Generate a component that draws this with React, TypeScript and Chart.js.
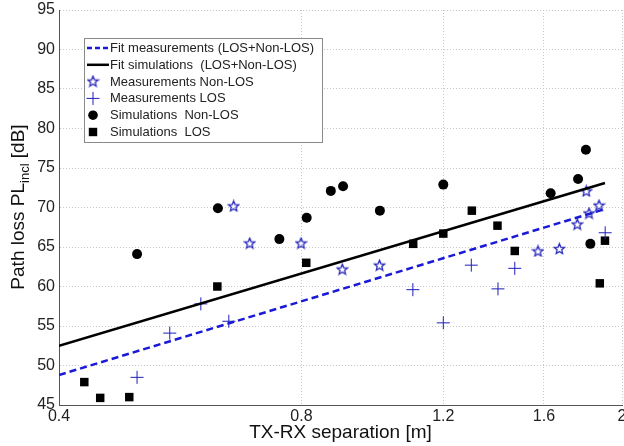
import React, { useEffect, useRef } from 'react';
import { Chart, registerables } from 'chart.js';
Chart.register(...registerables);

// ---- data ----
const xTicks = [0.4, 0.8, 1.2, 1.6, 2];
const yTickMin = 45;
const yTickMax = 95;
const yTickStep = 5;

const measNonLosX = [0.659, 0.69, 0.799, 0.899, 1.0, 1.573, 1.672, 1.76, 1.806, 1.82, 1.873];
const measNonLosY = [70.2, 65.5, 65.5, 62.2, 62.7, 64.5, 64.8, 67.9, 72.1, 69.3, 70.3];

const measLosX = [0.5, 0.549, 0.6, 0.65, 1.1, 1.2, 1.3, 1.403, 1.472, 1.906];
const measLosY = [48.5, 54.1, 57.8, 55.6, 59.6, 55.4, 62.7, 59.7, 62.3, 66.8];

const simNonLosX = [0.5, 0.63, 0.751, 0.812, 0.87, 0.901, 1.001, 1.2, 1.631, 1.764, 1.804, 1.827];
const simNonLosY = [64.1, 69.9, 66.0, 68.7, 72.1, 72.7, 69.6, 72.9, 71.8, 73.6, 77.3, 65.4];

const simLosX = [0.43, 0.45, 0.489, 0.629, 0.811, 1.101, 1.2, 1.302, 1.401, 1.472, 1.877, 1.905];
const simLosY = [47.9, 45.9, 46.0, 60.0, 63.0, 65.4, 66.7, 69.6, 67.7, 64.5, 60.4, 65.8];

const fitX = [0.4, 1.905];
const fitMeasY = [48.8, 69.8];
const fitSimY = [52.5, 73.1];

const legendLabels = [
  'Fit measurements (LOS+Non-LOS)',
  'Fit simulations  (LOS+Non-LOS)',
  'Measurements Non-LOS',
  'Measurements LOS',
  'Simulations  Non-LOS',
  'Simulations  LOS',
];

const xTitle = 'TX-RX separation [m]';
const yTitleMain = 'Path loss PL';
const yTitleSub = 'incl';
const yTitleEnd = ' [dB]';

// ---- styles ----
const FONT = '"Liberation Sans", Arial, sans-serif';
const BLUE_LINE = 'rgb(25,25,215)';
const BLUE_MARK = 'rgb(30,30,185)';
const BLACK = '#000';

function zip(xs: number[], ys: number[]) {
  return xs.map((x, i) => ({ x, y: ys[i] }));
}

function makeStar(color: string, outer: number, inner: number, lw: number) {
  const c = document.createElement('canvas');
  const s = 13;
  c.width = s;
  c.height = s;
  const ctx = c.getContext('2d')!;
  ctx.translate(s / 2, s / 2 + 0.5);
  ctx.beginPath();
  for (let i = 0; i < 10; i++) {
    const r = i % 2 === 0 ? outer : inner;
    const a = -Math.PI / 2 + (i * Math.PI) / 5;
    ctx.lineTo(r * Math.cos(a), r * Math.sin(a));
  }
  ctx.closePath();
  ctx.strokeStyle = color;
  ctx.lineWidth = lw;
  ctx.stroke();
  return c;
}

export default function App() {
  const ref = useRef<HTMLCanvasElement | null>(null);

  useEffect(() => {
    const canvas = ref.current!;
    const star = makeStar(BLUE_MARK, 5.5, 2.4, 1.2);

    const overlay = {
      id: 'overlay',
      afterDraw(chart: any) {
        const ctx = chart.ctx as CanvasRenderingContext2D;
        const area = chart.chartArea;
        const xs = chart.scales.x;
        ctx.save();
        // x tick labels
        ctx.fillStyle = '#222';
        ctx.font = `16px ${FONT}`;
        ctx.textAlign = 'center';
        ctx.textBaseline = 'middle';
        for (const v of xTicks) {
          ctx.fillText(String(v), xs.getPixelForValue(v), area.bottom + 12);
        }
        // x title
        ctx.fillStyle = '#111';
        ctx.font = `19px ${FONT}`;
        ctx.fillText(xTitle, (area.left + area.right) / 2, 433);

        // y title (rotated, with subscript)
        const mainFont = `19px ${FONT}`;
        const subFont = `13px ${FONT}`;
        ctx.font = mainFont;
        const w1 = ctx.measureText(yTitleMain).width;
        const w3 = ctx.measureText(yTitleEnd).width;
        ctx.font = subFont;
        const w2 = ctx.measureText(yTitleSub).width;
        const total = w1 + w2 + w3;
        ctx.translate(17, (area.top + area.bottom) / 2 - 0.5);
        ctx.rotate(-Math.PI / 2);
        ctx.textAlign = 'left';
        ctx.textBaseline = 'alphabetic';
        let cx = -total / 2;
        ctx.font = mainFont;
        ctx.fillText(yTitleMain, cx, 7);
        cx += w1;
        ctx.font = subFont;
        ctx.fillText(yTitleSub, cx, 12);
        cx += w2;
        ctx.font = mainFont;
        ctx.fillText(yTitleEnd, cx, 7);
        ctx.restore();

        // legend box
        ctx.save();
        const bx = 84, by = 38, bw = 238, bh = 104;
        ctx.fillStyle = '#fff';
        ctx.fillRect(bx, by, bw, bh);
        ctx.strokeStyle = '#8a8a8a';
        ctx.lineWidth = 1;
        ctx.strokeRect(bx + 0.5, by + 0.5, bw, bh);
        ctx.font = `13px ${FONT}`;
        ctx.textBaseline = 'middle';
        ctx.textAlign = 'left';
        const sx = 93;
        for (let i = 0; i < legendLabels.length; i++) {
          const ry = 48 + i * 16.8;
          ctx.save();
          if (i === 0) {
            ctx.strokeStyle = BLUE_LINE;
            ctx.lineWidth = 2.5;
            ctx.setLineDash([5, 3]);
            ctx.beginPath();
            ctx.moveTo(87, ry);
            ctx.lineTo(109, ry);
            ctx.stroke();
          } else if (i === 1) {
            ctx.strokeStyle = BLACK;
            ctx.lineWidth = 2.5;
            ctx.beginPath();
            ctx.moveTo(87, ry);
            ctx.lineTo(109, ry);
            ctx.stroke();
          } else if (i === 2) {
            ctx.drawImage(star, sx - 6.5, ry - 7);
          } else if (i === 3) {
            ctx.strokeStyle = BLUE_MARK;
            ctx.lineWidth = 1;
            ctx.beginPath();
            ctx.moveTo(sx - 6.5, ry);
            ctx.lineTo(sx + 6.5, ry);
            ctx.moveTo(sx, ry - 6.5);
            ctx.lineTo(sx, ry + 6.5);
            ctx.stroke();
          } else if (i === 4) {
            ctx.fillStyle = BLACK;
            ctx.beginPath();
            ctx.arc(sx, ry, 4.8, 0, Math.PI * 2);
            ctx.fill();
          } else {
            ctx.fillStyle = BLACK;
            ctx.fillRect(sx - 4.2, ry - 4.2, 8.4, 8.4);
          }
          ctx.restore();
          ctx.fillStyle = '#222';
          ctx.fillText(legendLabels[i], 110, ry + 0.5);
        }
        ctx.restore();
      },
    };

    const chart = new Chart(canvas, {
      type: 'scatter',
      data: {
        datasets: [
          {
            type: 'line',
            label: legendLabels[0],
            data: zip(fitX, fitMeasY),
            borderColor: BLUE_LINE,
            borderWidth: 2.5,
            borderDash: [7, 4],
            pointRadius: 0,
            fill: false,
          },
          {
            type: 'line',
            label: legendLabels[1],
            data: zip(fitX, fitSimY),
            borderColor: BLACK,
            borderWidth: 2.5,
            pointRadius: 0,
            fill: false,
          },
          {
            label: legendLabels[2],
            data: zip(measNonLosX, measNonLosY),
            pointStyle: star as any,
            pointRadius: 6,
          },
          {
            label: legendLabels[3],
            data: zip(measLosX, measLosY),
            pointStyle: 'cross',
            pointRadius: 6.5,
            borderColor: BLUE_MARK,
            borderWidth: 1,
          },
          {
            label: legendLabels[4],
            data: zip(simNonLosX, simNonLosY),
            pointStyle: 'circle',
            pointRadius: 5,
            backgroundColor: BLACK,
            borderColor: BLACK,
            borderWidth: 0,
          },
          {
            label: legendLabels[5],
            data: zip(simLosX, simLosY),
            pointStyle: 'rect',
            pointRadius: 6,
            backgroundColor: BLACK,
            borderColor: BLACK,
            borderWidth: 0,
          },
        ],
      },
      options: {
        responsive: false,
        animation: false,
        devicePixelRatio: 1,
        layout: { autoPadding: false, padding: { left: 0, right: 2, top: 10, bottom: 0 } },
        plugins: {
          legend: { display: false },
          tooltip: { enabled: false },
          title: { display: false },
        },
        scales: {
          x: {
            type: 'logarithmic',
            min: xTicks[0],
            max: xTicks[xTicks.length - 1],
            afterBuildTicks: (scale: any) => {
              scale.ticks = xTicks.map((v) => ({ value: v }));
            },
            afterFit: (scale: any) => {
              scale.height = 41;
              scale.paddingLeft = 0;
              scale.paddingRight = 0;
            },
            ticks: { display: false, autoSkip: false },
            grid: {
              color: '#c8c8c8',
              lineWidth: 1,
              drawTicks: false,
            },
            border: { display: true, color: '#555', width: 1, dash: [1, 2] },
          },
          y: {
            type: 'linear',
            min: yTickMin,
            max: yTickMax,
            afterFit: (scale: any) => {
              scale.width = 59;
              scale.paddingTop = 0;
              scale.paddingBottom = 0;
            },
            ticks: {
              stepSize: yTickStep,
              padding: 4,
              color: '#222',
              font: { family: FONT, size: 16 },
            },
            grid: {
              color: '#c8c8c8',
              lineWidth: 1,
              drawTicks: false,
            },
            border: { display: true, color: '#555', width: 1, dash: [1, 2] },
          },
        },
      },
      plugins: [overlay],
    } as any);

    return () => chart.destroy();
  }, []);

  return (
    <div style={{ position: 'fixed', left: 0, top: 0, width: 624, height: 446, background: '#fff' }}>
      <canvas ref={ref} width={624} height={446} style={{ display: 'block' }} />
    </div>
  );
}
